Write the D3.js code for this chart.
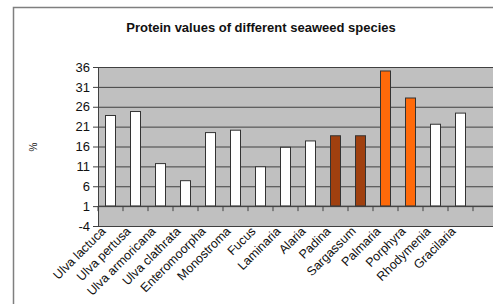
<!DOCTYPE html>
<html>
<head>
<meta charset="utf-8">
<script src="https://cdn.jsdelivr.net/npm/d3@7"></script>
<style>
  body { margin: 0; background: #fff; }
  svg { display: block; font-family: "Liberation Sans", Arial, sans-serif; }
</style>
</head>
<body>
<div id="chart"></div>
<script>
const species = ["Ulva lactuca", "Ulva pertusa", "Ulva armoricana", "Ulva clathrata", "Enteromoorpha",
  "Monostroma", "Fucus", "Laminaria", "Alaria", "Padina", "Sargassum", "Palmaria", "Porphyra",
  "Rhodymenia", "Gracilaria"];
const protein = [23.8, 24.8, 11.7, 7.4, 19.5, 20.1, 10.9, 15.8, 17.4, 18.7, 18.7, 35, 28.2, 21.6, 24.4];
const group = ["green", "green", "green", "green", "green", "green", "brown", "brown", "brown",
  "dark", "dark", "red", "red", "white", "white"];
const yTicks = [36, 31, 26, 21, 16, 11, 6, 1, -4];

const width = 493, height = 304;
const margin = { left: 98, top: 67, bottom: 226 };
const bandRight = 473;

const fills = { dark: "#a0400f", red: "#ff6a0a" };

const svg = d3.select("#chart").append("svg")
  .attr("width", width)
  .attr("height", height);

// outer frame
svg.append("rect")
  .attr("x", 13.5).attr("y", 7.5)
  .attr("width", width + 20).attr("height", height + 20)
  .attr("fill", "#fff")
  .attr("stroke", "#7f7f7f")
  .attr("stroke-width", 1.5);

svg.append("text")
  .attr("x", 261).attr("y", 32)
  .attr("text-anchor", "middle")
  .attr("font-size", 13)
  .attr("font-weight", "bold")
  .attr("fill", "#111")
  .text("Protein values of different seaweed species");

const x = d3.scaleBand()
  .domain(species)
  .range([margin.left, bandRight])
  .paddingInner(0.6)
  .paddingOuter(0.3);

const y = d3.scaleLinear()
  .domain([-4, 36])
  .range([margin.bottom, margin.top]);

// plot background
svg.append("rect")
  .attr("x", margin.left).attr("y", margin.top)
  .attr("width", width - margin.left + 5)
  .attr("height", margin.bottom - margin.top)
  .attr("fill", "#c0c0c0");

// grid lines
const grid = svg.append("g")
  .attr("transform", `translate(${margin.left},0)`)
  .call(d3.axisLeft(y).tickValues(yTicks).tickFormat("").tickSize(-(width - margin.left + 5)));
grid.select(".domain").remove();
grid.selectAll("line").attr("stroke", "#404040").attr("stroke-width", 1);

// y axis
const yAxis = svg.append("g")
  .attr("transform", `translate(${margin.left},0)`)
  .call(d3.axisLeft(y).tickValues(yTicks).tickFormat((d) => String(d)).tickSize(5).tickPadding(3));
yAxis.select(".domain").attr("stroke", "#404040");
yAxis.selectAll("line").attr("stroke", "#404040");
yAxis.selectAll("text")
  .attr("font-size", 13)
  .attr("font-family", "'Liberation Sans', Arial, sans-serif")
  .attr("fill", "#111");

svg.append("text")
  .attr("transform", "translate(37,147) rotate(-90)")
  .attr("text-anchor", "middle")
  .attr("font-size", 10)
  .attr("fill", "#222")
  .text("%");

// bars from the crossing value 1
svg.append("g").selectAll("rect")
  .data(species)
  .enter().append("rect")
  .attr("x", (d) => x(d))
  .attr("y", (d, i) => y(protein[i]))
  .attr("width", x.bandwidth())
  .attr("height", (d, i) => y(1) - y(protein[i]))
  .attr("fill", (d, i) => fills[group[i]] || "#fff")
  .attr("stroke", "#333")
  .attr("stroke-width", 1);

// category axis crossing at 1
const step = x.step();
const xAxis = svg.append("g")
  .attr("transform", `translate(0,${y(1)})`);
xAxis.append("line")
  .attr("x1", margin.left).attr("x2", width)
  .attr("stroke", "#404040");
xAxis.selectAll(".tk")
  .data(d3.range(species.length + 1))
  .enter().append("line")
  .attr("x1", (i) => margin.left + i * step)
  .attr("x2", (i) => margin.left + i * step)
  .attr("y1", 0).attr("y2", 5)
  .attr("stroke", "#404040");

// rotated category labels below the plot
svg.append("g").selectAll("text")
  .data(species)
  .enter().append("text")
  .attr("transform", (d) => `translate(${x(d) + x.bandwidth() / 2 - 4},${margin.bottom + 6}) rotate(-45)`)
  .attr("text-anchor", "end")
  .attr("font-size", 12.5)
  .attr("fill", "#111")
  .text((d) => d);
</script>
</body>
</html>
